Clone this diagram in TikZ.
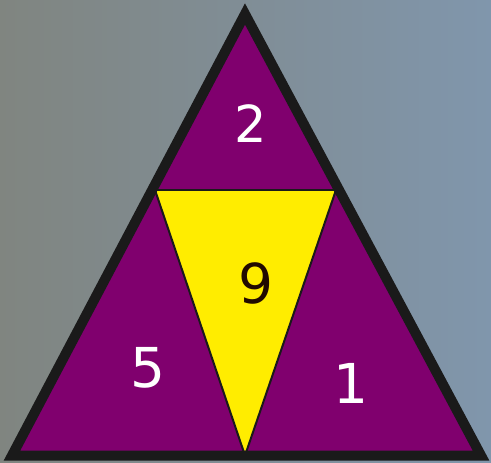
\documentclass[tikz,border=0pt]{standalone}
\usepackage{fontspec}
\setmainfont{DejaVu Sans}
\usetikzlibrary{calc}
\definecolor{bgleft}{RGB}{128,133,128}
\definecolor{bgright}{RGB}{128,150,172}
\definecolor{plum}{RGB}{128,0,110}
\definecolor{lemon}{RGB}{255,237,0}
\definecolor{rim}{RGB}{26,26,26}
\definecolor{ink}{RGB}{34,10,0}

\tikzset{
  digit/.style={inner sep=0pt, font=\fontsize{55}{60}\selectfont},
  thin rim/.style={draw=rim, line width=2pt, line join=miter},
}

\begin{document}
\begin{tikzpicture}[x=1pt,y=-1pt]
	\shade[left color=bgleft, right color=bgright] (0,0) rectangle (491,463);
	\useasboundingbox (0,0) rectangle (491,463);
	% corners of the big triangle and of the inner one
	\coordinate (top) at (245,14);
	\coordinate (bl) at (12,455.5);
	\coordinate (br) at (481,455.5);
	\coordinate (ml) at (155,190);
	\coordinate (mr) at (336,190);
	\coordinate (mb) at (245,455.5);
	\fill[plum] (top) -- (bl) -- (br) -- cycle;
	\fill[lemon] (ml) -- (mr) -- (mb) -- cycle;
	\draw[thin rim] ($(ml)+(-6,0)$) -- ($(mr)+(6,0)$);
	\draw[thin rim] (mr) -- (mb) -- (ml);
	\draw[rim, line width=10pt, line join=miter] (top) -- (bl) -- (br) -- cycle;
	% numbers
	\node[digit, white, font=\fontsize{51}{56}\selectfont] (two) at (250.5,124) {2};
	\node[digit, ink] (nine) at (256,283.5) {9};
	\node[digit, white] (five) at (147.5,368) {5};
	\node[digit, white] (one) at (351,383) {1};
\end{tikzpicture}
\end{document}
